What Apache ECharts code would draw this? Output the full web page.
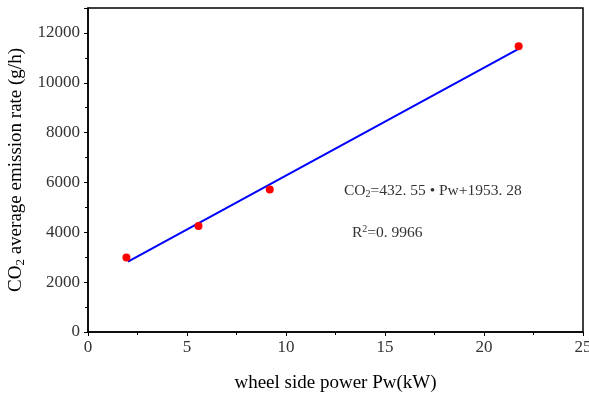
<!DOCTYPE html>
<html>
<head>
<meta charset="utf-8">
<script src="https://cdn.jsdelivr.net/npm/echarts@6/dist/echarts.min.js"></script>
<style>
    html, body {margin:0;padding:0;background:#fff;}
    #main {width:589px;height:394px;}
</style>
</head>
<body>
<div id="main"></div>
<script>
    // measured points (wheel side power kW, CO2 g/h)
    var powerKw = [1.94, 5.58, 9.18, 21.75];
    var co2Rate = [2990, 4250, 5720, 11470];
    // fitted line endpoints
    var fitX = [2.02, 21.77];
    var fitY = [2820, 11370];
    var xTicks = [0, 5, 10, 15, 20, 25];
    var yTicks = [0, 2000, 4000, 6000, 8000, 10000, 12000];

    var chart = echarts.init(document.getElementById('main'));
    var serif = 'Liberation Serif';

    var option = {
        animation: false,
        grid: {
            left: 88, right: 6, top: 8, bottom: 62,
            outerBoundsMode: 'none', containLabel: false,
            show: true, borderColor: '#000', borderWidth: 1.5, backgroundColor: '#fff'
        },
        xAxis: {
            type: 'value',
            min: xTicks[0], max: xTicks[xTicks.length - 1], interval: 5,
            name: 'wheel side power Pw(kW)',
            nameLocation: 'middle', nameGap: 42,
            nameTextStyle: {fontFamily: serif, fontSize: 19, color: '#000'},
            axisLine: {lineStyle: {color: '#000', width: 1.5}},
            axisTick: {length: 4, lineStyle: {color: '#000'}},
            minorTick: {show: true, splitNumber: 2, length: 3, lineStyle: {color: '#000'}},
            splitLine: {show: false},
            axisLabel: {fontFamily: serif, fontSize: 17, color: '#333', margin: 7}
        },
        yAxis: {
            type: 'value',
            min: yTicks[0], max: 13000, interval: 2000,
            name: '{t|CO}{s|2}{t| average emission rate (g/h)}',
            nameLocation: 'middle', nameGap: 57, nameRotate: 90,
            nameTextStyle: {
                rich: {
                    t: {fontFamily: serif, fontSize: 19, color: '#000'},
                    s: {fontFamily: serif, fontSize: 13, color: '#000', verticalAlign: 'bottom', padding: [8, 0, 0, 0]}
                }
            },
            axisLine: {lineStyle: {color: '#000', width: 1.5}},
            axisTick: {length: 4, lineStyle: {color: '#000'}},
            minorTick: {show: true, splitNumber: 2, length: 3, lineStyle: {color: '#000'}},
            splitLine: {show: false},
            axisLabel: {
                fontFamily: serif, fontSize: 17, color: '#333', margin: 8,
                formatter: function (v) { return yTicks.indexOf(v) >= 0 ? String(v) : ''; }
            }
        },
        series: [
            {
                type: 'line',
                data: fitX.map(function (x, i) { return [x, fitY[i]]; }),
                symbol: 'none',
                lineStyle: {color: '#0000ff', width: 2},
                z: 2
            },
            {
                type: 'scatter',
                data: powerKw.map(function (x, i) { return [x, co2Rate[i]]; }),
                symbolSize: 8,
                itemStyle: {color: '#ff0000', opacity: 1},
                z: 3
            }
        ],
        graphic: [
            {
                type: 'text', left: 344, top: 183,
                style: {
                    rich: {
                        t: {fontFamily: serif, fontSize: 15.5, fill: '#333'},
                        s: {fontFamily: serif, fontSize: 10, fill: '#333', padding: [7, 0, 0, 0]}
                    },
                    text: '{t|CO}{s|2}{t|=432. 55 • Pw+1953. 28}'
                }
            },
            {
                type: 'text', left: 352, top: 224,
                style: {
                    rich: {
                        t: {fontFamily: serif, fontSize: 15.5, fill: '#333'},
                        p: {fontFamily: serif, fontSize: 10, fill: '#333', padding: [0, 0, 8, 0]}
                    },
                    text: '{t|R}{p|2}{t|=0. 9966}'
                }
            }
        ]
    };
    chart.setOption(option);
</script>
</body>
</html>
